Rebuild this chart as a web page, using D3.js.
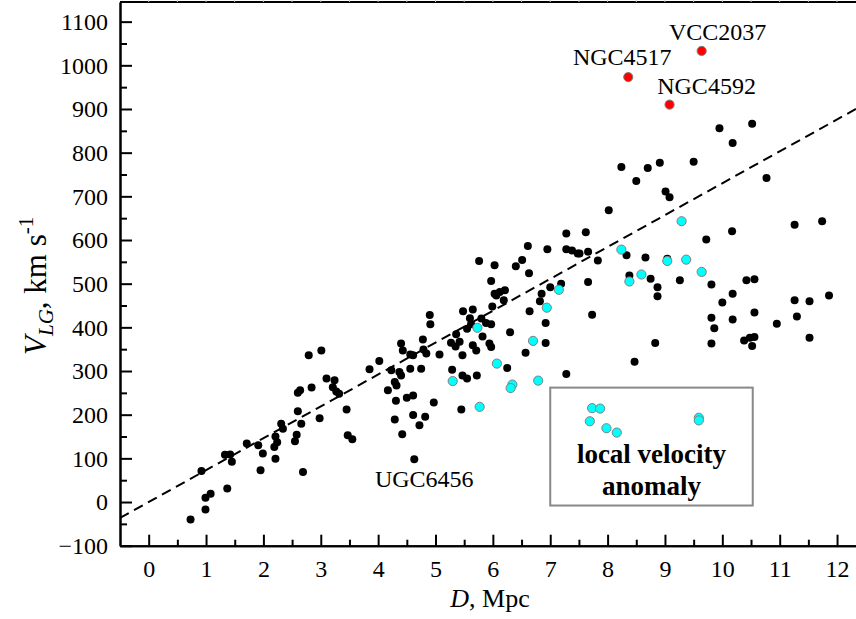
<!DOCTYPE html>
<html>
<head>
<meta charset="utf-8">
<script src="https://cdn.jsdelivr.net/npm/d3@7"></script>
<style>
  body { margin: 0; background: #fff; }
  svg { display: block; }
  svg text { font-family: "Liberation Serif", "Times New Roman", serif !important; fill: #000; }
</style>
</head>
<body>
<div id="chart"></div>
<script>
// galaxies: distance D (Mpc), velocity V_LG (km/s)
let field_galaxies = [
  [0.73, -40], [0.92, 71], [0.99, 10], [0.99, -17], [1.08, 19], [1.33, 108], [1.42, 109], [1.45, 92],
  [1.37, 31], [1.71, 134], [1.91, 130], [1.99, 111], [1.95, 73], [2.21, 150], [2.24, 137], [2.19, 126],
  [2.21, 99], [2.31, 179], [2.34, 168], [2.60, 208], [2.66, 179], [2.58, 154], [2.55, 139], [2.98, 192],
  [2.69, 69], [2.60, 250], [2.64, 256], [2.84, 262], [2.79, 336], [3.01, 347],
  [3.10, 283], [3.24, 279], [3.21, 263], [3.27, 253], [3.32, 248], [3.45, 212], [3.47, 153], [3.55, 144],
  [3.85, 304], [4.02, 323], [4.23, 302], [4.37, 298], [4.40, 290], [4.29, 275], [4.32, 267], [4.17, 256],
  [4.31, 232], [4.50, 239], [4.61, 244], [4.29, 189], [4.42, 155], [4.61, 199], [4.82, 195], [4.72, 176],
  [4.63, 98], [4.97, 228], [4.40, 363], [4.43, 347], [4.56, 338], [4.61, 336], [4.84, 340], [5.07, 338],
  [4.79, 349], [4.78, 372], [4.56, 305], [4.75, 305], [4.90, 428], [4.91, 407],
  [5.27, 365], [5.42, 367], [5.35, 356], [5.47, 336], [5.65, 359], [5.71, 347], [5.94, 363], [5.97, 355],
  [5.36, 384], [5.55, 397], [5.82, 379], [5.48, 437], [5.65, 441], [5.60, 421], [5.62, 407], [5.80, 420],
  [5.88, 410], [5.97, 407], [5.99, 448], [5.97, 506], [5.76, 552], [6.03, 542], [5.29, 303], [5.47, 290],
  [5.55, 283], [5.72, 290], [5.45, 212],
  [6.03, 477], [6.12, 481], [6.21, 485], [6.06, 473], [6.19, 462], [6.40, 540], [6.51, 554], [6.63, 524],
  [6.61, 586], [6.95, 579], [6.64, 437], [6.85, 477], [6.82, 460], [7.00, 492], [6.92, 410], [6.30, 389],
  [6.92, 364], [6.57, 342], [6.25, 307], [7.28, 615], [7.28, 579], [7.38, 576], [7.48, 569], [7.28, 293],
  [7.19, 500],
  [7.62, 618], [7.51, 569], [7.66, 573], [7.83, 553], [7.66, 504], [7.73, 429], [8.02, 668], [8.33, 565],
  [8.38, 519], [8.66, 560], [8.75, 511], [8.87, 492], [8.87, 471], [9.04, 557], [9.26, 508], [9.72, 601],
  [10.17, 620], [9.81, 498], [10.00, 457], [10.18, 477], [10.42, 508], [10.56, 510], [9.81, 422], [9.86, 398],
  [10.18, 418], [10.56, 434], [9.81, 363], [10.38, 370], [10.48, 376], [10.56, 378], [10.52, 357], [10.95, 408],
  [11.26, 462], [11.52, 460], [11.86, 473], [11.30, 425], [11.52, 376], [11.26, 635], [11.74, 643], [8.83, 364],
  [8.47, 321], [9.95, 856], [10.52, 866], [10.18, 822], [8.24, 767], [8.70, 765], [8.91, 777], [9.50, 779],
  [8.50, 735], [9.01, 711], [9.08, 698], [10.77, 742]
]

let anomaly_galaxies = [
  [5.73, 399], [5.77, 218], [7.15, 486], [6.94, 445], [6.70, 369], [6.07, 317], [5.30, 277], [6.34, 269],
  [6.31, 261], [6.79, 278], [8.24, 578], [8.38, 505], [8.59, 521], [9.04, 552], [9.29, 643], [9.37, 555],
  [9.64, 527], [7.73, 215], [7.87, 214], [7.69, 185], [7.98, 169], [8.16, 159], [9.59, 193], [9.59, 187]
]

let virgo_galaxies = [
  [8.36, 973, "NGC4517"], [9.08, 910, "NGC4592"], [9.64, 1033, "VCC2037"]
]

let named_field = [[4.63, 98, "UGC6456"]]

let hubble_h0 = 73
let x_ticks = d3.range(0, 13, 1)
let y_ticks = d3.range(-100, 1101, 100)
let anomaly_box = {d: [7.0, 10.53], v: [-8, 262], lines: ["local velocity", "anomaly"]}

let w = 856, h = 619
let x_dom = [-0.5, 12.4], y_dom = [-100, 1145]
let serif = "'Liberation Serif', 'Times New Roman', serif"

let x = d3.scaleLinear().domain(x_dom).range([120, 860])
let y = d3.scaleLinear().domain(y_dom).range([545.7, 2])

let svg = d3.select("#chart").append("svg")
  .attr("width", w)
  .attr("height", h)
  .style("font-family", serif)

svg.append("rect").attr("width", w).attr("height", h).attr("fill", "#fff")

// top frame with faint ticks
svg.append("line")
  .attr("x1", x(x_dom[0])).attr("x2", w)
  .attr("y1", y(y_dom[1])).attr("y2", y(y_dom[1]))
  .attr("stroke", "#000").attr("stroke-width", 2)
svg.append("g").selectAll("line")
  .data(d3.range(0, 12.5, 0.5))
  .join("line")
  .attr("x1", d => x(d)).attr("x2", d => x(d))
  .attr("y1", 0).attr("y2", y(y_dom[1]))
  .attr("stroke", "#ccc").attr("stroke-width", 1)

// dashed hubble line
svg.append("line")
  .attr("x1", x(x_dom[0])).attr("y1", y(hubble_h0 * x_dom[0]))
  .attr("x2", x(x_dom[1])).attr("y2", y(hubble_h0 * x_dom[1]))
  .attr("stroke", "#000").attr("stroke-width", 2)
  .attr("stroke-dasharray", "10,6")

// anomaly box
svg.append("rect")
  .attr("x", x(anomaly_box.d[0])).attr("y", y(anomaly_box.v[1]))
  .attr("width", x(anomaly_box.d[1]) - x(anomaly_box.d[0]))
  .attr("height", y(anomaly_box.v[0]) - y(anomaly_box.v[1]))
  .attr("fill", "none").attr("stroke", "#888").attr("stroke-width", 2)

let box_cx = (x(anomaly_box.d[0]) + x(anomaly_box.d[1])) / 2
svg.append("text")
  .attr("x", box_cx)
  .attr("y", y(anomaly_box.v[0]) - 43)
  .attr("text-anchor", "middle")
  .style("font-family", serif)
  .style("font-size", "27px").style("font-weight", "bold")
  .selectAll("tspan")
  .data(anomaly_box.lines)
  .join("tspan")
  .attr("x", box_cx)
  .attr("dy", (d, i) => i == 0 ? 0 : 32)
  .text(d => d)

// points
svg.append("g").selectAll("circle")
  .data(field_galaxies)
  .join("circle")
  .attr("cx", d => x(d[0])).attr("cy", d => y(d[1]))
  .attr("r", 4).attr("fill", "#000")

svg.append("g").selectAll("circle")
  .data(anomaly_galaxies)
  .join("circle")
  .attr("cx", d => x(d[0])).attr("cy", d => y(d[1]))
  .attr("r", 4.6).attr("fill", "#00ffff")
  .attr("stroke", "#808080").attr("stroke-width", 1)

svg.append("g").selectAll("circle")
  .data(virgo_galaxies)
  .join("circle")
  .attr("cx", d => x(d[0])).attr("cy", d => y(d[1]))
  .attr("r", 4.6).attr("fill", "#ff0000")
  .attr("stroke", "#808080").attr("stroke-width", 1)

// name labels, offset from their galaxy
let label_offsets = {"NGC4517": [-6, -12], "NGC4592": [37, -11], "VCC2037": [16, -11], "UGC6456": [10, 28]}
svg.append("g").selectAll("text")
  .data(virgo_galaxies.concat(named_field))
  .join("text")
  .attr("x", d => x(d[0]) + label_offsets[d[2]][0])
  .attr("y", d => y(d[1]) + label_offsets[d[2]][1])
  .attr("text-anchor", "middle")
  .style("font-family", serif)
  .style("font-size", "24px")
  .text(d => d[2])

// axes
let x_axis = svg.append("g").attr("transform", `translate(0,${y(y_dom[0])})`)
  .call(d3.axisBottom(x).tickValues(x_ticks).tickSizeInner(-11).tickSizeOuter(0).tickPadding(14).tickFormat(d3.format("d")))
x_axis.append("g")
  .call(d3.axisBottom(x).tickValues(d3.range(0.5, 12, 1)).tickSizeInner(-6).tickSizeOuter(0).tickFormat(""))

let y_axis = svg.append("g").attr("transform", `translate(${x(x_dom[0])},0)`)
  .call(d3.axisLeft(y).tickValues(y_ticks).tickSizeInner(-12).tickSizeOuter(0).tickPadding(12).tickFormat(d3.format("d")))
y_axis.append("g")
  .call(d3.axisLeft(y).tickValues(d3.range(-50, 1100, 100)).tickSizeInner(-7).tickSizeOuter(0).tickFormat(""))

svg.selectAll("g").attr("font-family", null).attr("font-size", null)
svg.selectAll(".domain").attr("stroke", "#000").attr("stroke-width", 2)
svg.selectAll(".tick line").attr("stroke", "#000").attr("stroke-width", 2)
svg.selectAll(".tick text")
  .style("font-family", serif)
  .style("font-size", "24px")
  .attr("fill", "#000")
x_axis.selectAll(".tick text").attr("dy", "0.71em")

// axis titles
let xt = svg.append("text")
  .attr("x", (x.range()[0] + x.range()[1]) / 2)
  .attr("y", 607)
  .attr("text-anchor", "middle")
  .style("font-family", serif)
  .style("font-size", "26px")
xt.append("tspan").style("font-style", "italic").text("D")
xt.append("tspan").text(", Mpc")

let yt = svg.append("text")
  .attr("transform", `translate(46,${(y.range()[0] + y.range()[1]) / 2 + 12}) rotate(-90)`)
  .attr("text-anchor", "middle")
  .style("font-family", serif)
  .style("font-size", "31px")
yt.append("tspan").style("font-style", "italic").text("V")
yt.append("tspan").style("font-style", "italic").style("font-size", "21px").attr("dy", 7).text("LG")
yt.append("tspan").attr("dy", -7).text(", km s")
yt.append("tspan").style("font-size", "21px").attr("dy", -13).text("-1")
</script>
</body>
</html>
